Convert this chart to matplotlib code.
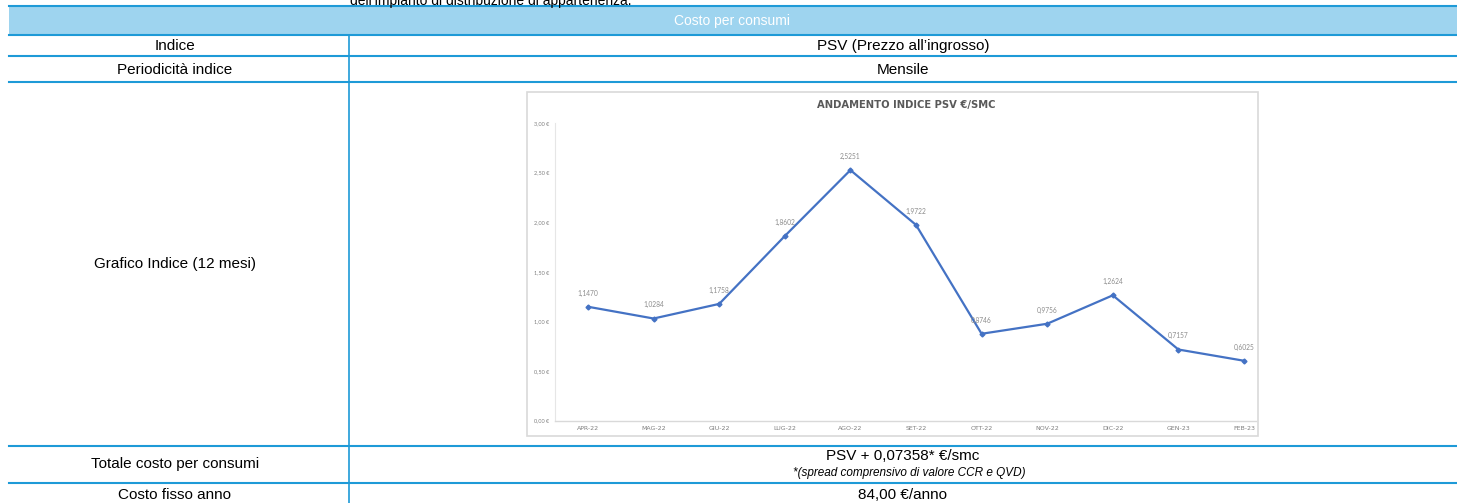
import numpy as np
import matplotlib
matplotlib.use('Agg')
import matplotlib.pyplot as plt

# dati
mesi = ['APR-22', 'MAG-22', 'GIU-22', 'LUG-22', 'AGO-22', 'SET-22',
        'OTT-22', 'NOV-22', 'DIC-22', 'GEN-23', 'FEB-23']
psv = [1.1470, 1.0284, 1.1758, 1.8602, 2.5251, 1.9722,
       0.8746, 0.9756, 1.2624, 0.7157, 0.6025]
tick_y = [0.0, 0.5, 1.0, 1.5, 2.0, 2.5, 3.0]

righe_sx = ['Indice', 'Periodicità indice', 'Grafico Indice (12 mesi)',
            'Totale costo per consumi', 'Costo fisso anno']
righe_dx = ['PSV (Prezzo all\u2019ingrosso)', 'Mensile', '', 'PSV + 0,07358* €/smc', '84,00 €/anno']
nota = '*(spread comprensivo di valore CCR e QVD)'

W, H = 1457, 503
blu_linee = '#1E9AD7'
blu_banda = '#9ED4EF'
font_tab = 'Liberation Sans'

fig = plt.figure(figsize=(W / 100, H / 100), dpi=100)
bg = fig.add_axes([0, 0, 1, 1])
bg.set_xlim(0, W)
bg.set_ylim(H, 0)
bg.axis('off')

# testo tagliato in alto (come nell'originale)
bg.text(350, 0.5, 'dell\u2019impianto di distribuzione di appartenenza.', fontsize=10,
        family=font_tab, va='center', ha='left', color='black')

# banda intestazione
bg.add_patch(plt.Rectangle((9, 6), W - 9, 29, color=blu_banda, lw=0))
bg.plot([9, W], [6, 6], color=blu_linee, lw=1.5)
bg.text(732, 21, 'Costo per consumi', color='white', fontsize=10, family=font_tab,
        ha='center', va='center')

# righe tabella
linee_y = [35, 56, 82, 446, 483]
for y in linee_y:
    bg.plot([9, W], [y, y], color=blu_linee, lw=1.5)
bg.plot([349, 349], [35, H], color=blu_linee, lw=1.2)

centri_y = [45.5, 69.5, 264, 464, 495]
for i in range(len(righe_sx)):
    bg.text(175, centri_y[i], righe_sx[i], fontsize=11, family=font_tab,
            ha='center', va='center')
for i in range(len(righe_dx)):
    if righe_dx[i] == '':
        continue
    yy = centri_y[i]
    if i == 3:
        yy = 456
    bg.text(903, yy, righe_dx[i], fontsize=11, family=font_tab,
            ha='center', va='center')
bg.text(909, 473, nota, fontsize=8.5, family=font_tab, style='italic',
        ha='center', va='center')

# cornice grafico
bg.add_patch(plt.Rectangle((527, 92), 1258 - 527, 436 - 92, fill=False,
                           edgecolor='#D9D9D9', lw=1.2))
bg.text(906, 105, 'ANDAMENTO INDICE PSV €/SMC', fontsize=7.2, fontweight='bold',
        family='DejaVu Sans', color='#595959', ha='center', va='center')

# grafico
x0, x1 = 555, 1256
y0, y1 = 420.5, 123
ax = fig.add_axes([x0 / W, 1 - y0 / H, (x1 - x0) / W, (y0 - y1) / H])
x = np.arange(len(mesi))
passo = 65.6
ax.set_xlim(-(588 - x0) / passo, (x1 - 588) / passo)
ax.set_ylim(0, 3)
ax.plot(x, psv, color='#4472C4', lw=1.6, marker='D', markersize=2.5)
for i in range(len(psv)):
    ax.annotate(('%.4f' % psv[i]).replace('.', ','), (x[i], psv[i]),
                xytext=(0, 8), textcoords='offset points', ha='center',
                fontsize=4.8, color='#8C8C8C', family='Lato')
ax.set_xticks(x)
ax.set_xticklabels(mesi, fontsize=4.5, color='#7F7F7F', family='DejaVu Sans')
ax.set_yticks(tick_y)
ax.set_yticklabels([('%.2f €' % v).replace('.', ',') for v in tick_y],
                   fontsize=4, color='#7F7F7F', family='Lato')
ax.tick_params(length=0, pad=4)
for s in ['top', 'right']:
    ax.spines[s].set_visible(False)
ax.spines['left'].set_color('#E6E6E6')
ax.spines['bottom'].set_color('#D9D9D9')
ax.spines['left'].set_linewidth(0.8)
ax.spines['bottom'].set_linewidth(1.0)
ax.patch.set_alpha(0)

fig.savefig('out.png', dpi=100)
